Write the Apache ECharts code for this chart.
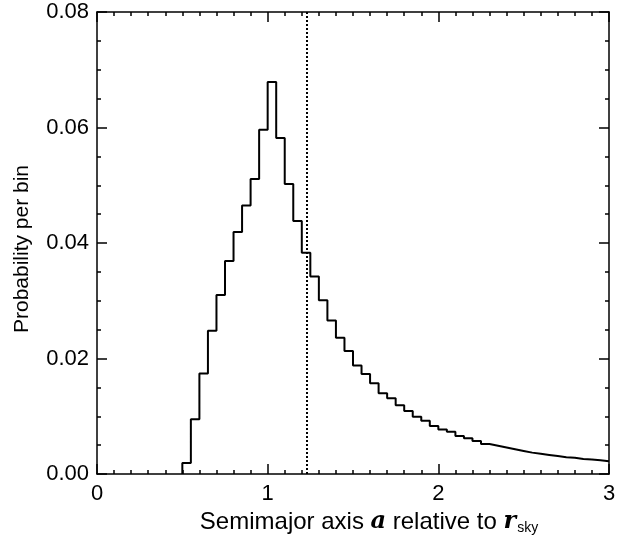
<!DOCTYPE html>
<html>
<head>
<meta charset="utf-8">
<script src="https://cdn.jsdelivr.net/npm/echarts@6/dist/echarts.min.js"></script>
<style>
  html, body { margin: 0; padding: 0; background: #fff; }
  #chart { width: 620px; height: 535px; }
</style>
</head>
<body>
<div id="chart"></div>
<script>
// histogram bins, width 0.05, left edges from 0.50
const binWidth = 0.05;
const binStart = 0.5;
const binValues = [
  0.0019, 0.0095, 0.0174, 0.0248, 0.0310, 0.0369, 0.0419, 0.0465, 0.0511, 0.0596,
  0.0679, 0.0582, 0.0502, 0.0438, 0.0383, 0.0342, 0.0301, 0.0266, 0.0236, 0.0213,
  0.0188, 0.0173, 0.0157, 0.0140, 0.0131, 0.0119, 0.0109, 0.0099, 0.0092, 0.0083,
  0.0077, 0.0073, 0.0066, 0.0062, 0.0057, 0.0052, 0.0049, 0.0046, 0.0043, 0.0040,
  0.0037, 0.0035, 0.0033, 0.0031, 0.0029, 0.0028, 0.0026, 0.0025, 0.0024, 0.0022
];
const rSkyLine = 1.23;   // dotted marker
const xTicks = [0, 1, 2, 3];
const yTicks = [0, 0.02, 0.04, 0.06, 0.08];

// step points: start at baseline, one point per left edge, close at right edge
const steps = [[binStart, 0]];
binValues.forEach((v, i) => {
  steps.push([+(binStart + i * binWidth).toFixed(2), v]);
});
steps.push([+(binStart + binValues.length * binWidth).toFixed(2), binValues[binValues.length - 1]]);

const font = 'Liberation Sans, Arial, Helvetica, sans-serif';

const baseX = {
  type: 'value',
  min: xTicks[0],
  max: xTicks[xTicks.length - 1],
  interval: 1,
  axisLine: { show: true, onZero: false, lineStyle: { color: '#000', width: 1.5 } },
  axisTick: { show: true, inside: true, length: 10, lineStyle: { color: '#000', width: 1.5 } },
  minorTick: { show: true, splitNumber: 10, length: 4, lineStyle: { color: '#000', width: 1.5 } },
  splitLine: { show: false },
  minorSplitLine: { show: false }
};
const baseY = {
  type: 'value',
  min: yTicks[0],
  max: yTicks[yTicks.length - 1],
  interval: 0.02,
  axisLine: { show: true, onZero: false, lineStyle: { color: '#000', width: 1.5 } },
  axisTick: { show: true, inside: true, length: 10, lineStyle: { color: '#000', width: 1.5 } },
  minorTick: { show: true, splitNumber: 4, length: 4, lineStyle: { color: '#000', width: 1.5 } },
  splitLine: { show: false },
  minorSplitLine: { show: false }
};

const chart = echarts.init(document.getElementById('chart'));
chart.setOption({
  animation: false,
  backgroundColor: '#fff',
  grid: { left: 97, right: 11, top: 12, bottom: 61, containLabel: false, outerBoundsMode: 'none' },
  xAxis: [
    {
      ...baseX,
      position: 'bottom',
      axisLabel: {
        show: true, margin: 9, color: '#000', fontSize: 22, fontFamily: font,
        showMinLabel: true, showMaxLabel: true,
        formatter: v => String(v)
      },
      name: '{t|Semimajor axis }{b|a}{t| relative to }{b|r}{s|sky}',
      nameLocation: 'middle',
      nameGap: 30,
      nameTextStyle: {
        padding: [0, 0, 0, 32],
        rich: {
          t: { fontSize: 24, fontFamily: font, color: '#000' },
          b: { fontSize: 24, fontFamily: 'DejaVu Serif, Liberation Serif, serif', fontWeight: 'bold', fontStyle: 'italic', color: '#000' },
          s: { fontSize: 14, fontFamily: font, color: '#000', verticalAlign: 'bottom', padding: [12, 0, 0, 1] }
        }
      }
    },
    { ...baseX, position: 'top', axisLabel: { show: false } }
  ],
  yAxis: [
    {
      ...baseY,
      position: 'left',
      axisLabel: {
        show: true, margin: 8, color: '#000', fontSize: 22, fontFamily: font,
        showMinLabel: true, showMaxLabel: true,
        formatter: v => v.toFixed(2)
      },
      name: 'Probability per bin',
      nameLocation: 'middle',
      nameGap: 64,
      nameTextStyle: { fontSize: 21, fontFamily: font, color: '#000', padding: [0, 12, 0, 0] }
    },
    { ...baseY, position: 'right', axisLabel: { show: false } }
  ],
  series: [
    {
      type: 'line',
      step: 'end',
      data: steps,
      showSymbol: false,
      symbol: 'none',
      lineStyle: { color: '#000', width: 2 },
      markLine: {
        silent: true,
        symbol: 'none',
        label: { show: false },
        lineStyle: { color: '#000', width: 2, type: [2, 2] },
        data: [{ xAxis: rSkyLine }]
      }
    }
  ]
});
</script>
</body>
</html>
